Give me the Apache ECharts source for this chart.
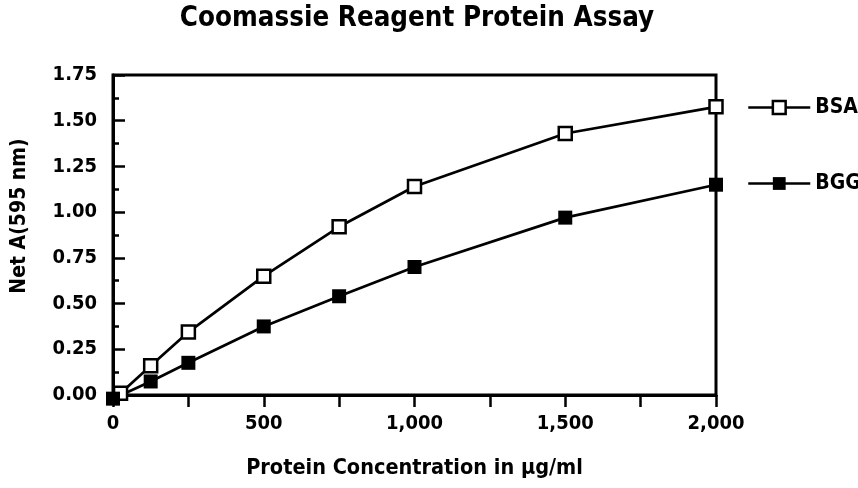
<!DOCTYPE html>
<html><head><meta charset="utf-8">
<script src="https://cdn.jsdelivr.net/npm/echarts@6/dist/echarts.min.js"></script>
<style>html,body{margin:0;padding:0;background:#fff}#c{width:858px;height:488px}</style>
</head><body><div id="c"></div>
<script>
var chartTitle = 'Coomassie Reagent Protein Assay';
var xName = 'Protein Concentration in \u03bcg/ml';
var yName = 'Net A(595 nm)';
var bsaX = [25, 125, 250, 500, 750, 1000, 1500, 2000];
var bsaY = [0.01, 0.16, 0.344, 0.65, 0.92, 1.14, 1.43, 1.576];
var bggX = [0, 125, 250, 500, 750, 1000, 1500, 2000];
var bggY = [-0.02, 0.074, 0.176, 0.375, 0.54, 0.70, 0.97, 1.15];
var seriesNames = ['BSA', 'BGG'];

var FONT = '"DejaVu Sans Condensed","DejaVu Sans",sans-serif';
function pairs(xs, ys){ return xs.map(function(x,i){ return [x, ys[i]]; }); }
var chart = echarts.init(document.getElementById('c'), null, {renderer:'canvas'});
var legendText = {fontFamily:FONT, fontWeight:'bold', fontSize:21, color:'#000'};
chart.setOption({
  animation:false,
  backgroundColor:'#fff',
  title:{text:chartTitle, left:412, textAlign:'center', top:0,
    textStyle:{fontFamily:FONT, fontWeight:'bold', fontSize:27.5, color:'#000'}},
  grid:{left:113, right:142, top:75, bottom:93, show:true, borderColor:'#000', borderWidth:3,
    containLabel:false, outerBoundsMode:'none'},
  legend:[
    {data:[seriesNames[0]], left:742, top:92, itemWidth:62, itemHeight:16, itemGap:7,
      lineStyle:{width:2.5}, itemStyle:{borderWidth:2.5}, textStyle:legendText},
    {data:[seriesNames[1]], left:742, top:168, itemWidth:62, itemHeight:16, itemGap:7,
      lineStyle:{width:2.5}, textStyle:legendText}
  ],
  xAxis:{type:'value', min:0, max:2000, interval:250,
    name:xName, nameLocation:'middle', nameGap:62,
    nameTextStyle:{fontFamily:FONT, fontWeight:'bold', fontSize:21.5, color:'#000'},
    axisLine:{lineStyle:{color:'#000', width:3}},
    axisTick:{show:true, inside:false, length:12, lineStyle:{color:'#000', width:2.5}},
    splitLine:{show:false},
    axisLabel:{margin:19, fontFamily:FONT, fontWeight:'bold', fontSize:20, color:'#000',
      formatter:function(v){ return v % 500 === 0 ? v.toLocaleString('en-US') : ''; }}
  },
  yAxis:{type:'value', min:0, max:1.75, interval:0.25,
    name:yName, nameLocation:'middle', nameGap:83, nameRotate:90,
    nameTextStyle:{fontFamily:FONT, fontWeight:'bold', fontSize:21, color:'#000', padding:[0,0,0,38]},
    axisLine:{lineStyle:{color:'#000', width:3}},
    axisTick:{show:true, inside:true, length:12, lineStyle:{color:'#000', width:2.5}},
    minorTick:{show:true, splitNumber:2, length:6, lineStyle:{color:'#000', width:2.5}},
    splitLine:{show:false},
    axisLabel:{margin:16, fontFamily:FONT, fontWeight:'bold', fontSize:20, color:'#000',
      formatter:function(v){ return v.toFixed(2); }}
  },
  series:[
    {name:seriesNames[0], type:'line', data:pairs(bsaX,bsaY), clip:false,
      symbol:'rect', symbolSize:13, z:3,
      lineStyle:{color:'#000', width:2.7},
      itemStyle:{color:'#fff', borderColor:'#000', borderWidth:2.5}},
    {name:seriesNames[1], type:'line', data:pairs(bggX,bggY), clip:false,
      symbol:'rect', symbolSize:14, z:3,
      lineStyle:{color:'#000', width:2.7},
      itemStyle:{color:'#000', borderColor:'#000', borderWidth:0}}
  ]
});
</script></body></html>
